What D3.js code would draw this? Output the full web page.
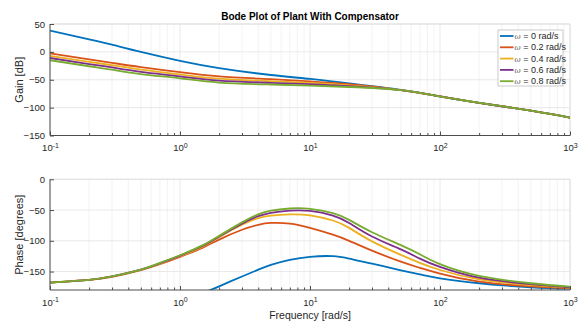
<!DOCTYPE html>
<html>
<head>
<meta charset="utf-8">
<script src="https://cdn.jsdelivr.net/npm/d3@7"></script>
<style>
  body { margin: 0; background: #fff; }
  svg { display: block; font-family: "Liberation Sans", Arial, Helvetica, sans-serif; }
  .tick text { fill: #262626; font-size: 9.5px; }
  .domain { stroke: #4d4d4d; }
  .tick line { stroke: #4d4d4d; }
</style>
</head>
<body>
<svg id="chart" width="582" height="324"></svg>
<script>
// legend labels and colours (MATLAB default order)
var seriesNames = ["0", "0.2", "0.4", "0.6", "0.8"];
var colors = ["#0072BD", "#D95319", "#EDB120", "#7E2F8E", "#77AC30"];

// gain plot
var gainFreq = [0.1, 0.2, 0.3, 0.5, 1, 2, 5, 10, 20, 50, 100, 200, 500, 1000];
var gainW0 = [38, 22.5, 13, 0, -16, -29, -41.5, -48.5, -56.5, -68, -80, -91.5, -105.5, -118];
var gainW02 = [-2.5, -13.3, -19.6, -27.4, -36.5, -44, -49, -53, -58, -68.5, -80, -91.5, -105.5, -118];
var gainW04 = [-7, -17.8, -24, -31.8, -40.5, -48, -52.5, -55.5, -60, -68.5, -80, -91.5, -105.5, -118];
var gainW06 = [-11, -21.8, -28, -35.8, -44, -51.5, -55.5, -58, -61.5, -68.5, -80, -91.5, -105.5, -118];
var gainW08 = [-15, -25.8, -32, -39.8, -47.5, -55, -58.5, -60.5, -63, -68.5, -80, -91.5, -105.5, -118];

// phase plot
var phaseFreq = [0.1, 0.2, 0.3, 0.5, 0.7, 1, 1.5, 2, 3, 4, 5, 7, 10, 15, 20, 30, 50, 70, 100, 200, 500, 1000];
var phaseW0 = [null, null, null, null, null, null, -185, -174, -158, -147, -139, -131, -126, -125, -129, -137, -148, -154.5, -161, -169, -175.5, -177.8];
var phaseW02 = [-168, -163.5, -158.5, -147.5, -138, -126, -111, -98, -82, -74, -71, -72, -79, -90, -100, -116, -134, -144, -153.5, -166.5, -174, -177];
var phaseW04 = [-168, -163.5, -158, -147, -137, -125, -109, -94, -74, -63, -59, -57, -58.5, -67, -79, -101, -123, -136, -147.5, -162.5, -172, -176];
var phaseW06 = [-168, -163.5, -158, -147, -136.5, -124, -108, -93, -72, -60, -54.5, -51, -51.5, -59, -71, -93, -114, -129, -142.5, -160, -170.5, -175.5];
var phaseW08 = [-168, -163.5, -158, -147, -136, -123.5, -107, -92, -70, -57, -51, -47.5, -48, -55, -66, -86, -107, -122, -138, -157, -169, -174.5];

var gainTicks = [50, 0, -50, -100, -150];
var phaseTicks = [0, -50, -100, -150];
var decadeTicks = [0.1, 1, 10, 100, 1000];

var gainSeries = [gainW0, gainW02, gainW04, gainW06, gainW08];
var phaseSeries = [phaseW0, phaseW02, phaseW04, phaseW06, phaseW08];

var svg = d3.select("#chart");
var left = 50, right = 570;

var minorTicks = [];
decadeTicks.slice(0, -1).forEach(function (d) {
    for (var k = 2; k <= 9; k++) minorTicks.push(d * k);
});

var x = d3.scaleLog().domain([0.1, 1000]).range([left, right]);

function drawPanel(top, bottom, yDomain, yTicks, freq, series, yLabel, clipId) {
    var y = d3.scaleLinear().domain(yDomain).range([bottom, top]);
    var g = svg.append("g");

    // grid
    g.selectAll(".minorGrid").data(minorTicks).enter().append("line")
        .attr("x1", function (d) { return x(d); }).attr("x2", function (d) { return x(d); })
        .attr("y1", top).attr("y2", bottom)
        .attr("stroke", "#f0f0f0").attr("stroke-width", 0.8);
    g.selectAll(".majorGrid").data(decadeTicks).enter().append("line")
        .attr("x1", function (d) { return x(d); }).attr("x2", function (d) { return x(d); })
        .attr("y1", top).attr("y2", bottom)
        .attr("stroke", "#e3e3e3").attr("stroke-width", 0.8);
    g.selectAll(".yGrid").data(yTicks).enter().append("line")
        .attr("x1", left).attr("x2", right)
        .attr("y1", function (d) { return y(d); }).attr("y2", function (d) { return y(d); })
        .attr("stroke", "#e3e3e3").attr("stroke-width", 0.8);

    // top and right box edges
    g.append("path")
        .attr("d", "M" + left + "," + top + "H" + right + "V" + bottom)
        .attr("fill", "none").attr("stroke", "#e0e0e0");

    // curves
    svg.append("clipPath").attr("id", clipId).append("rect")
        .attr("x", left).attr("y", top).attr("width", right - left).attr("height", bottom - top);

    var line = d3.line()
        .defined(function (d) { return d[1] != null; })
        .x(function (d) { return x(d[0]); })
        .y(function (d) { return y(d[1]); })
        .curve(d3.curveNatural);

    g.append("g").attr("clip-path", "url(#" + clipId + ")")
        .selectAll("path").data(series).enter().append("path")
        .attr("fill", "none")
        .attr("stroke", function (d, i) { return colors[i]; })
        .attr("stroke-width", 1.8)
        .attr("d", function (vals) {
            return line(freq.map(function (f, i) { return [f, vals[i]]; }));
        });

    // axes
    var yAxis = g.append("g").attr("transform", "translate(" + left + ",0)")
        .call(d3.axisLeft(y).tickValues(yTicks).tickSize(-4).tickPadding(5));
    yAxis.select(".domain").attr("d", "M0," + top + "V" + bottom);

    g.append("g").attr("transform", "translate(0," + bottom + ")")
        .call(d3.axisBottom(x).tickValues(minorTicks).tickSize(-2.5).tickFormat(""))
        .select(".domain").remove();

    var xAxis = g.append("g").attr("transform", "translate(0," + bottom + ")")
        .call(d3.axisBottom(x).tickValues(decadeTicks).tickSize(-4).tickPadding(6));
    xAxis.select(".domain").attr("d", "M" + left + ",0H" + right);
    xAxis.selectAll(".tick text").each(function (d) {
        var t = d3.select(this).text("");
        t.append("tspan").text("10");
        t.append("tspan").attr("dy", "-0.45em").attr("font-size", "7px")
            .text(Math.round(Math.log10(d)));
    });
    xAxis.selectAll(".tick text").attr("dy", "1em");

    svg.append("text")
        .attr("transform", "translate(23," + (top + bottom) / 2 + ") rotate(-90)")
        .attr("text-anchor", "middle")
        .attr("font-size", "11px").attr("fill", "#262626")
        .text(yLabel);

    return g;
}

drawPanel(24, 135.5, [-150, 50], gainTicks, gainFreq, gainSeries, "Gain [dB]", "clipTop");
drawPanel(179.3, 290, [-180, 0], phaseTicks, phaseFreq, phaseSeries, "Phase [degrees]", "clipBottom");

svg.append("text")
    .attr("x", 310).attr("y", 19.5)
    .attr("text-anchor", "middle")
    .attr("font-size", "10px").attr("font-weight", "bold").attr("fill", "#000")
    .text("Bode Plot of Plant With Compensator");

svg.append("text")
    .attr("x", 310).attr("y", 319)
    .attr("text-anchor", "middle")
    .attr("font-size", "10.5px").attr("fill", "#262626")
    .text("Frequency [rad/s]");

// legend
var legend = svg.append("g").attr("transform", "translate(498,30)");
legend.append("rect")
    .attr("width", 65).attr("height", 56)
    .attr("fill", "#fff").attr("stroke", "#bdbdbd").attr("stroke-width", 0.8);
var item = legend.selectAll(".item").data(seriesNames).enter().append("g")
    .attr("transform", function (d, i) { return "translate(0," + (6 + i * 11.3) + ")"; });
item.append("line")
    .attr("x1", 2).attr("x2", 15.5)
    .attr("stroke", function (d, i) { return colors[i]; })
    .attr("stroke-width", 1.8);
var label = item.append("text")
    .attr("x", 16.5).attr("dy", "0.35em")
    .attr("font-size", "9px").attr("fill", "#262626");
label.append("tspan").attr("font-family", "'DejaVu Serif', serif").attr("font-style", "italic")
    .attr("font-size", "7.5px").attr("fill", "#666").text("ω");
label.append("tspan").text(function (d) { return " = " + d + " rad/s"; });
</script>
</body>
</html>
